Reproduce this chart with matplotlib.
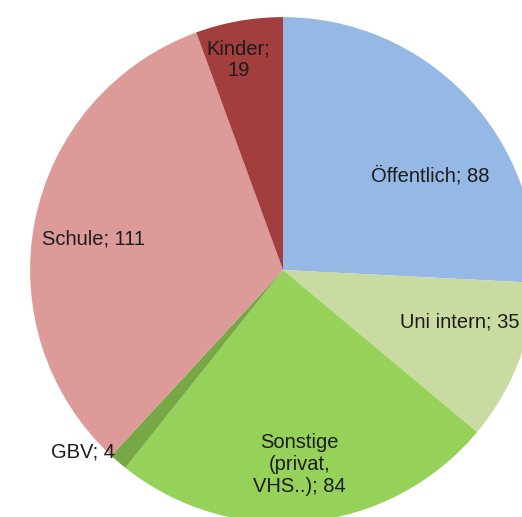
import numpy as np
import matplotlib.pyplot as plt

# Kategorien und Werte
kategorien = ["Öffentlich", "Uni intern", "Sonstige\n(privat,\nVHS..)", "GBV", "Schule", "Kinder"]
werte = [88, 35, 84, 4, 111, 19]
farben = ["#95B9E4", "#CADBA2", "#96D15A", "#78A845", "#DC9A98", "#A23E3D"]

# Abstand der Beschriftung vom Mittelpunkt und kleine Winkelkorrektur
abstand = [0.69, 0.73, 0.77, 1.07, 0.76, 0.85]
winkel_korr = [-11, 5, -1, -7, 2, 2]
trenner = ["; ", "; ", "; ", "; ", "; ", ";\n"]

plt.rcParams['font.family'] = ['Liberation Sans', 'DejaVu Sans']

fig = plt.figure(figsize=(5.22, 5.17), dpi=100)
ax = fig.add_axes([0, 0, 1, 1])

wedges, _ = ax.pie(werte, colors=farben, startangle=90, counterclock=False,
                   radius=1.0, wedgeprops=dict(linewidth=0))

for w, name, wert, r, dk, t in zip(wedges, kategorien, werte, abstand, winkel_korr, trenner):
    mitte = np.deg2rad((w.theta1 + w.theta2) / 2 + dk)
    x, y = r * np.cos(mitte), r * np.sin(mitte)
    ax.text(x, y, f"{name}{t}{wert}", ha="center", va="center",
            fontsize=14.5, color="#1c1c1c", linespacing=1.2)

ax.set_xlim(-1.119, 0.945)
ax.set_ylim(-0.976, 1.067)
ax.set_aspect("equal")
ax.axis("off")

fig.savefig("out.png", dpi=100)
